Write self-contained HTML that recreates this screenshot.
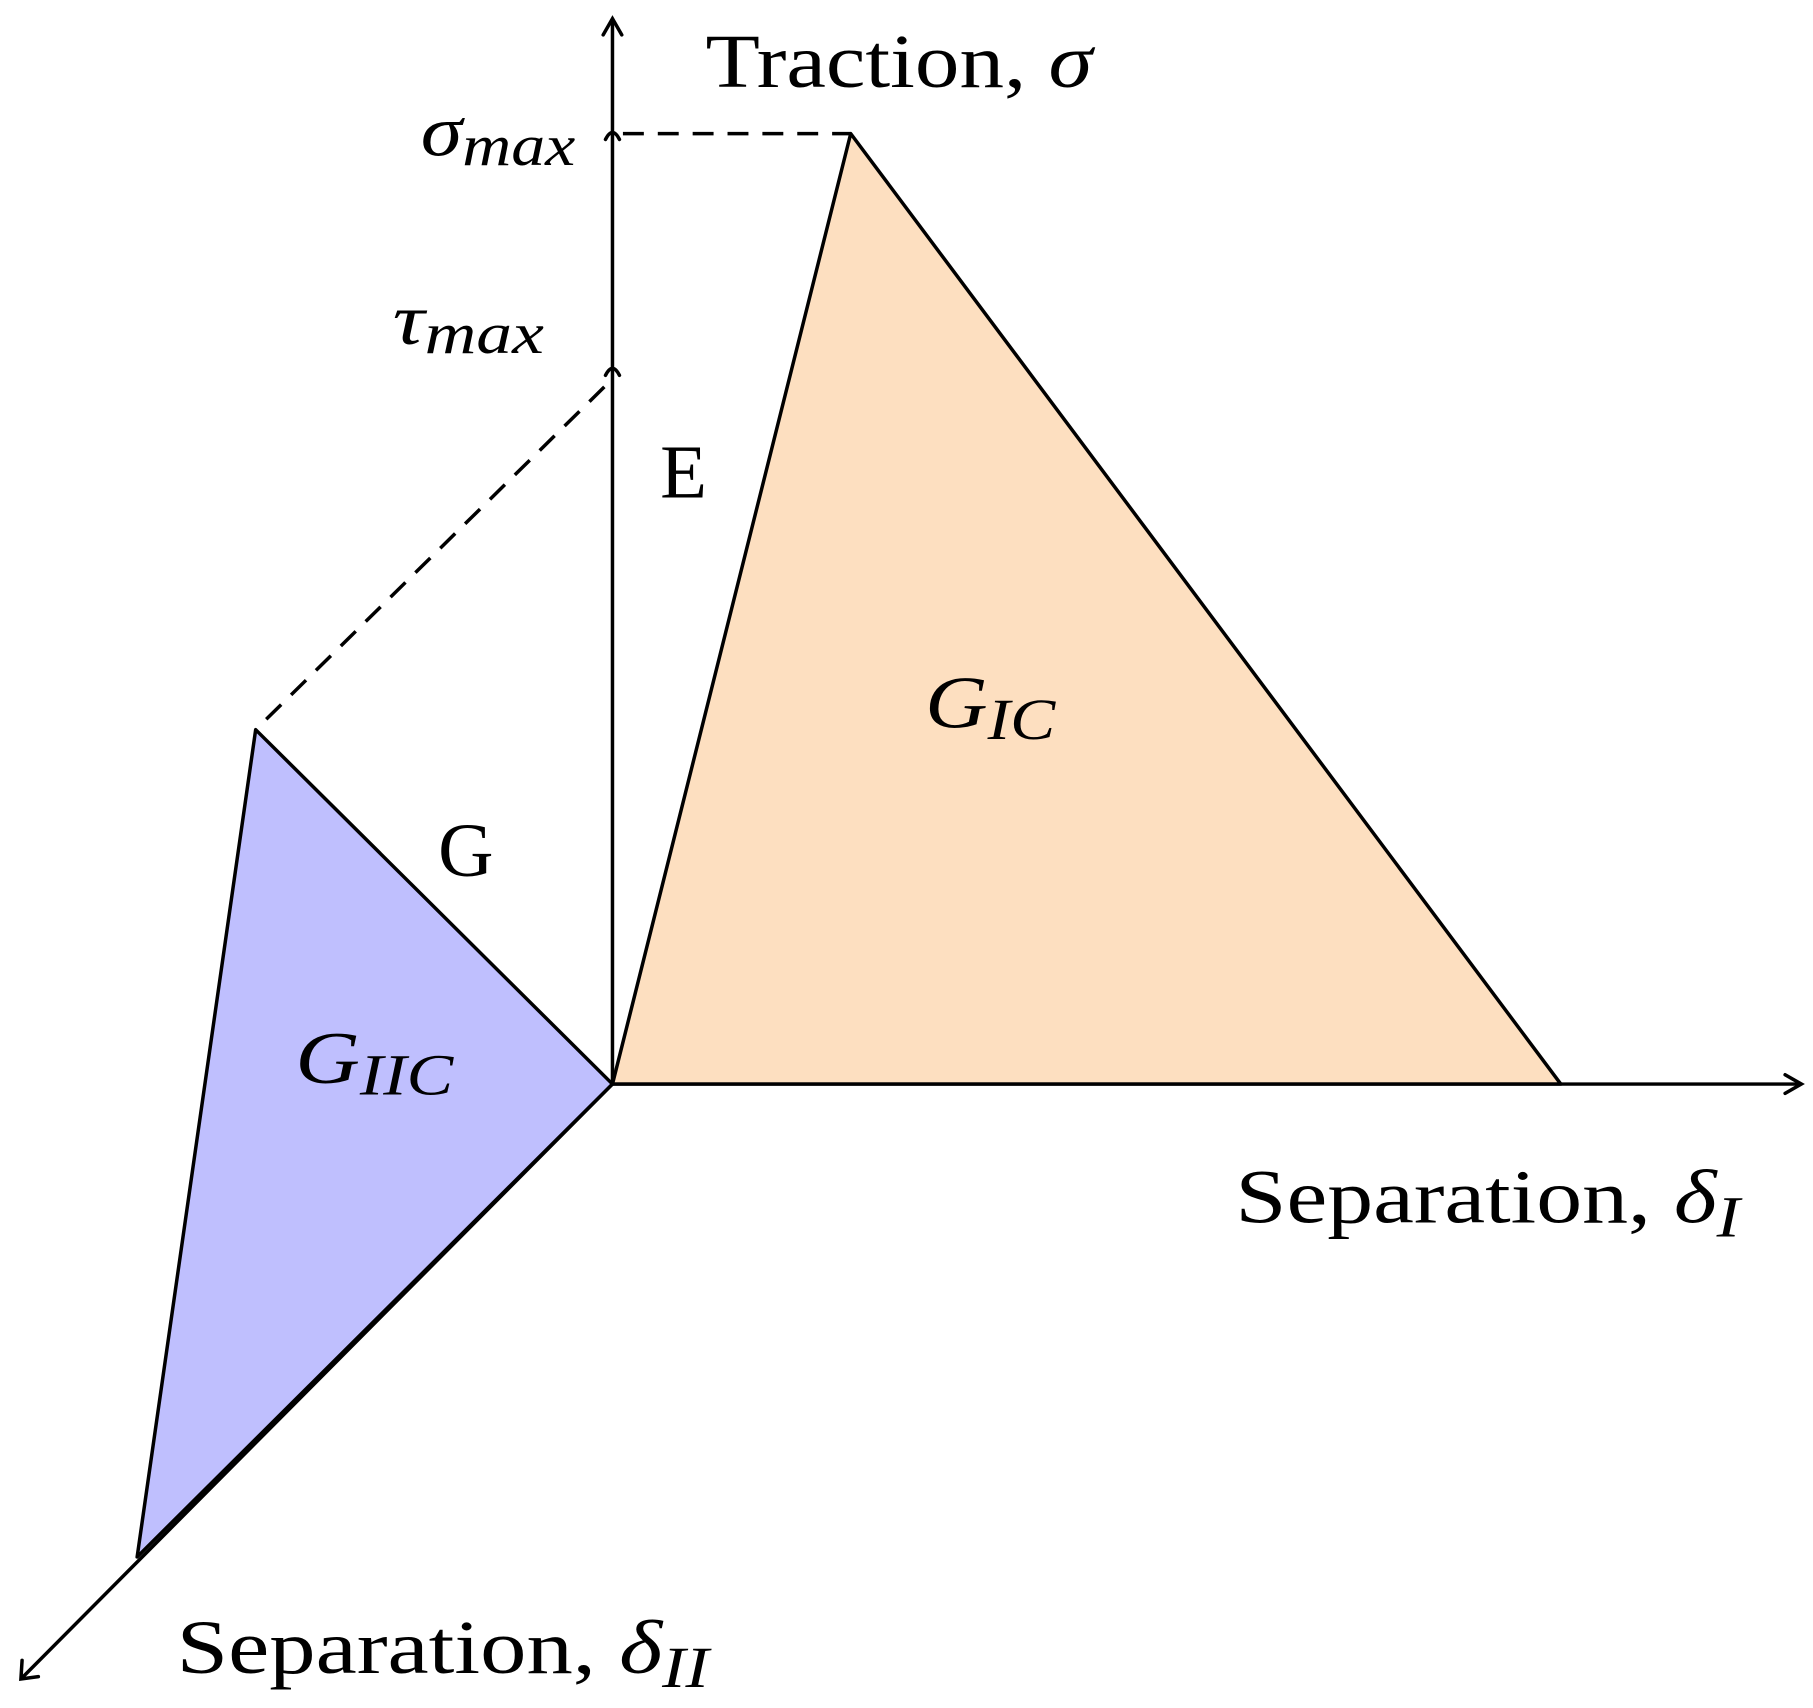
<!DOCTYPE html>
<html><head><meta charset="utf-8"><style>
html,body{margin:0;padding:0;background:#fff;}
svg{display:block;}
text{font-family:"Liberation Serif","DejaVu Serif",serif;fill:#000;}
</style></head><body>
<svg width="1813" height="1708" viewBox="0 0 1560 1470" preserveAspectRatio="none" xmlns="http://www.w3.org/2000/svg">
<polygon points="527,933 732,115 1343,933" fill="#fddfc0" stroke="#000" stroke-width="3" stroke-linejoin="round"/>
<polygon points="527,933 220,628 118,1340" fill="#bfbffe" stroke="#000" stroke-width="3" stroke-linejoin="round"/>
<g stroke="#000" stroke-width="3" fill="none" stroke-linecap="round">
<line x1="527" y1="933" x2="527" y2="18"/>
<path d="M519,30 L527,16 L535,30"/>
<line x1="527" y1="933" x2="1548" y2="933"/>
<path d="M1536,925 L1550,933 L1536,941"/>
<line x1="527" y1="933" x2="20" y2="1443"/>
<path d="M19,1429 L18,1445 L33,1443"/>
<path d="M521,120 Q527,108 533,120"/>
<path d="M521,323 Q527,311 533,323"/>
</g>
<g stroke="#000" stroke-width="3" stroke-dasharray="18,12" fill="none">
<line x1="536" y1="115" x2="732" y2="115"/>
<line x1="520" y1="333" x2="220" y2="628"/>
</g>
<text x="607" y="75" font-size="66" textLength="333" lengthAdjust="spacingAndGlyphs">Traction, <tspan font-style="italic">σ</tspan></text>
<text x="362" y="134" font-size="62" font-style="italic" textLength="133" lengthAdjust="spacingAndGlyphs">σ<tspan font-size="50" dy="8">max</tspan></text>
<text x="338" y="296" font-size="62" font-style="italic" textLength="130" lengthAdjust="spacingAndGlyphs">τ<tspan font-size="50" dy="8">max</tspan></text>
<text x="568" y="428" font-size="66">E</text>
<text x="377" y="754" font-size="66">G</text>
<text x="796" y="626" font-size="64" font-style="italic" textLength="112" lengthAdjust="spacingAndGlyphs">G<tspan font-size="50" dy="10">IC</tspan></text>
<text x="254" y="932" font-size="64" font-style="italic" textLength="136" lengthAdjust="spacingAndGlyphs">G<tspan font-size="50" dy="10">IIC</tspan></text>
<text x="1063" y="1052" font-size="66" textLength="434" lengthAdjust="spacingAndGlyphs">Separation, <tspan font-style="italic">δ</tspan><tspan font-style="italic" font-size="50" dy="12">I</tspan></text>
<text x="152" y="1440" font-size="66" textLength="458" lengthAdjust="spacingAndGlyphs">Separation, <tspan font-style="italic">δ</tspan><tspan font-style="italic" font-size="50" dy="12">II</tspan></text>
</svg>
</body></html>
